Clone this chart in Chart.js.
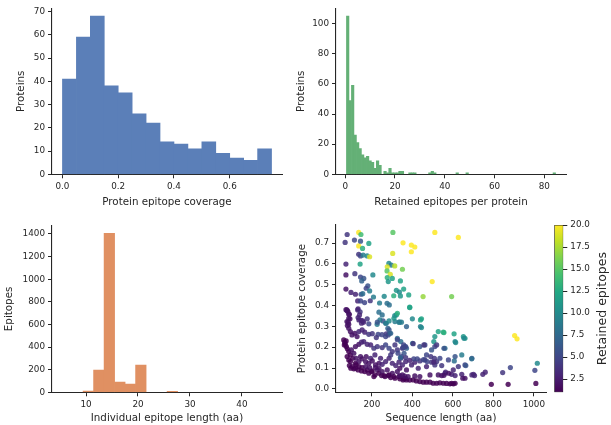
<!DOCTYPE html>
<html>
<head>
<meta charset="utf-8">
<script src="https://cdn.jsdelivr.net/npm/chart.js@4.4.1/dist/chart.umd.min.js"></script>
<style>
  html, body { margin: 0; padding: 0; background: #fff; }
  #wrap { position: relative; width: 611px; height: 425px; }
  #wrap canvas { position: absolute; left: 0; top: 0; }
</style>
</head>
<body>
<div id="wrap">
  <canvas id="coverageHist" width="611" height="425"></canvas>
  <canvas id="retainedHist" width="611" height="425"></canvas>
  <canvas id="lengthHist" width="611" height="425"></canvas>
  <canvas id="coverageScatter" width="611" height="425"></canvas>
  <canvas id="colorbar" width="611" height="425"></canvas>
</div>
<script>
// ─── Data ───────────────────────────────────

// protein epitope coverage, bins of 0.05
const coverageBins   = [0.025, 0.075, 0.125, 0.175, 0.225, 0.275, 0.325, 0.375, 0.425, 0.475, 0.525, 0.575, 0.625, 0.675, 0.725];
const coverageCounts = [41, 59, 68, 38, 35, 26, 22, 14, 13, 11, 14, 9, 7, 6, 11];
const coverageXTicks = [0, 0.2, 0.4, 0.6];
const coverageYTicks = [0, 10, 20, 30, 40, 50, 60, 70];

// retained epitopes per protein (only non-empty bins listed)
const retainedBins   = [1, 2, 3, 4, 5, 6, 7, 8, 9, 10, 11, 12, 13, 14, 16, 17, 18, 19, 20, 21, 22, 23, 26, 27, 28, 34, 35, 36, 45, 49, 84];
const retainedCounts = [105, 49, 59, 26, 21, 17, 13, 11, 12, 9, 8, 4, 9, 6, 2, 1, 4, 1, 1, 1, 2, 2, 1, 1, 1, 1, 2, 1, 1, 1, 1];
const retainedXTicks = [0, 20, 40, 60, 80];
const retainedYTicks = [0, 20, 40, 60, 80, 100];

// individual epitope length (aa), bins of ~2 aa
const lengthBins   = [10.45, 12.47, 14.49, 16.51, 18.53, 20.55, 26.61];
const lengthCounts = [10, 197, 1405, 91, 73, 241, 8];
const lengthXTicks = [10, 20, 30, 40];
const lengthYTicks = [0, 200, 400, 600, 800, 1000, 1200, 1400];

// [sequence length (aa), epitope coverage, retained epitopes]
const proteinPoints = [
  [78,0.741,4],[135,0.751,20],[146,0.741,14],[68,0.703,4],[114,0.714,5],[135,0.686,20],[144,0.709,6],[185,0.698,12],
  [154,0.674,13],[304,0.751,15],[511,0.751,20],[627,0.727,20],[354,0.701,20],[395,0.690,20],[412,0.681,20],[395,0.658,20],
  [72,0.599,3],[142,0.599,12],[135,0.646,4],[144,0.638,5],[157,0.642,9],[177,0.638,10],[189,0.634,19],[303,0.650,19],
  [284,0.602,10],[296,0.594,9],[313,0.590,18],[276,0.586,19],[275,0.566,15],[291,0.550,19],[351,0.574,16],[276,0.534,13],
  [301,0.530,12],[281,0.515,11],[341,0.518,12],[498,0.515,20],[72,0.547,2],[116,0.553,4],[144,0.537,5],[160,0.530,6],
  [150,0.518,7],[205,0.547,10],[180,0.495,6],[172,0.483,5],[72,0.479,2],[97,0.463,3],[119,0.454,3],[147,0.454,5],
  [155,0.457,8],[189,0.470,9],[130,0.422,3],[144,0.422,5],[164,0.414,5],[192,0.423,4],[208,0.441,9],[261,0.444,10],
  [321,0.473,11],[336,0.465,10],[357,0.479,12],[382,0.451,12],[341,0.446,11],[308,0.447,13],[594,0.443,16],[453,0.443,17],
  [238,0.412,9],[275,0.411,8],[286,0.403,8],[387,0.392,12],
  [72,0.380,2],[78,0.375,2],[82,0.371,2],[89,0.358,2],[86,0.339,2],[86,0.310,2],[77,0.323,2],[130,0.379,3],
  [142,0.370,4],[132,0.342,3],[147,0.329,3],[159,0.320,3],[177,0.336,4],[185,0.312,5],[235,0.368,8],[251,0.355,8],
  [226,0.310,9],[255,0.326,6],[271,0.315,8],[321,0.355,11],[313,0.352,10],[314,0.323,9],[337,0.320,9],[400,0.336,10],
  [445,0.336,12],[440,0.299,9],[279,0.291,7],[231,0.262,5],[250,0.260,5],[271,0.264,4],[288,0.267,8],
  [94,0.275,2],[102,0.259,2],[116,0.267,2],[127,0.251,2],[136,0.275,3],[152,0.283,3],[165,0.272,3],[185,0.262,4],
  [202,0.265,4],[222,0.246,4],[86,0.291,2],[79,0.304,2],[240,0.331,9],[227,0.320,6],[268,0.315,9],[285,0.326,10],
  [309,0.339,11],[326,0.363,13],[334,0.320,9],[285,0.283,6],[268,0.251,5],[281,0.259,5],[293,0.267,7],[326,0.243,8],
  [343,0.227,8],[139,0.355,3],[136,0.331,3],[149,0.315,3],[155,0.326,3],[132,0.384,3],[86,0.358,2],[92,0.336,2],
  [83,0.320,2],[77,0.379,2],
  [61,0.235,1],[66,0.224,1],[69,0.214,1],[74,0.203,1],[79,0.192,1],[86,0.179,1],[64,0.211,1],[73,0.230,1],
  [94,0.163,1],[99,0.187,2],[111,0.171,2],[119,0.203,2],[136,0.214,2],[149,0.224,3],[160,0.227,3],[177,0.214,3],
  [194,0.211,3],[210,0.195,4],[227,0.203,4],[251,0.198,4],[268,0.211,5],[285,0.195,5],[301,0.179,4],[314,0.211,4],
  [326,0.187,4],[351,0.195,4],[359,0.171,6],
  [78,0.155,1],[86,0.139,1],[94,0.131,1],[106,0.147,1],[119,0.123,1],[122,0.147,2],[136,0.131,2],[144,0.155,2],
  [152,0.144,2],[169,0.131,2],[172,0.155,2],[185,0.123,2],[194,0.147,3],[202,0.134,2],[215,0.163,3],[218,0.115,2],
  [235,0.123,2],[243,0.147,3],[251,0.118,3],[268,0.131,3],[285,0.147,3],[293,0.163,4],[301,0.123,3],[318,0.112,3],
  [334,0.128,3],[351,0.115,3],[367,0.131,3],[343,0.147,4],
  [102,0.107,1],[111,0.096,1],[119,0.099,1],[132,0.091,1],[136,0.107,1],[149,0.086,1],[152,0.102,1],[165,0.083,1],
  [177,0.091,1],[185,0.075,1],[198,0.083,1],[202,0.086,1],[215,0.067,1],[227,0.091,2],[235,0.075,1],[248,0.064,1],
  [251,0.083,2],[265,0.059,1],[276,0.091,2],[281,0.064,1],[293,0.054,1],[301,0.075,2],[314,0.051,1],[326,0.083,2],
  [334,0.059,1],[351,0.067,2],[359,0.048,1],[367,0.051,1],[309,0.059,1],[285,0.067,1],[260,0.064,1],[218,0.102,2],
  [235,0.099,2],[169,0.107,2],[189,0.102,2],[122,0.115,1],[89,0.112,1],[96,0.099,1],[210,0.059,1],
  [338,0.048,1],[354,0.043,1],[371,0.043,1],[387,0.042,1],[404,0.043,1],[420,0.038,1],[437,0.035,1],[454,0.032,1],
  [470,0.032,1],[487,0.032,1],[503,0.027,1],[520,0.027,1],[536,0.029,1],[553,0.027,1],[569,0.026,1],[586,0.024,1],
  [603,0.024,1],[611,0.027,1],[594,0.026,1],
  [338,0.064,2],[362,0.061,2],[379,0.059,2],[412,0.062,2],[437,0.059,2],[487,0.067,2],[528,0.067,2],[545,0.064,2],
  [561,0.075,3],[594,0.070,3],[611,0.064,3],[644,0.070,3],[660,0.051,2],[694,0.067,3],
  [338,0.099,2],[371,0.091,2],[396,0.115,3],[412,0.128,3],[429,0.099,3],[437,0.134,4],[462,0.139,4],[470,0.107,3],
  [495,0.128,4],[511,0.115,4],[520,0.131,4],[536,0.147,5],[545,0.112,4],[578,0.139,5],[611,0.155,6],[627,0.107,4],
  [660,0.115,5],[694,0.147,6],[644,0.163,9],[346,0.155,5],[362,0.203,8],[371,0.195,7],[401,0.219,8],[437,0.203,6],
  [462,0.211,5],[495,0.187,6],[511,0.203,5],[561,0.195,8],[611,0.227,10],[652,0.251,11],[660,0.243,11],[511,0.251,11],
  [528,0.275,12],[553,0.272,13],[445,0.294,10],[440,0.331,12],[387,0.390,12],[371,0.299,7],[346,0.320,9],
  [326,0.236,5],[506,0.227,11],[556,0.270,13],[606,0.264,12],[614,0.222,10],[655,0.243,10],[905,0.256,20],[917,0.240,20],
  [693,0.144,8],[607,0.134,8],[664,0.112,6],[556,0.195,6],[520,0.211,4],[457,0.211,4],[404,0.217,4],[357,0.211,5],
  [367,0.203,5],[354,0.198,5],[470,0.163,5],[491,0.155,4],[509,0.147,4],[506,0.128,3],[473,0.131,5],[455,0.140,5],
  [407,0.144,5],[424,0.144,5],[387,0.137,3],[367,0.150,4],[341,0.150,7],[329,0.171,5],[602,0.091,3],[564,0.080,3],
  [556,0.065,2],[580,0.075,2],[649,0.051,2],[702,0.070,3],[707,0.064,3],[748,0.070,3],[760,0.080,3],[790,0.022,1],
  [846,0.078,4],[884,0.102,5],[873,0.022,1],[1005,0.089,5],[1017,0.123,10],[1010,0.026,1]
];
const scatterXTicks  = [200, 400, 600, 800, 1000];
const scatterYTicks  = [0, 0.1, 0.2, 0.3, 0.4, 0.5, 0.6, 0.7];
const colorbarTicks  = [2.5, 5, 7.5, 10, 12.5, 15, 17.5, 20];
const colorRange     = [1, 20];

// ─── Styling ────────────────────────────────

const W = 611, H = 425;
const INK = '#262626';
const TICK_FONT  = { family: 'DejaVu Sans', size: 8.8 };
const LABEL_FONT = { family: 'DejaVu Sans', size: 10.3 };

const VIRIDIS = ['#440154','#482475','#414487','#355f8d','#2a788e','#21918c','#22a884','#44bf70','#7ad151','#bddf26','#fde725'];

function hexRgb(h) { return [1, 3, 5].map(i => parseInt(h.slice(i, i + 2), 16)); }

function viridis(v, alpha) {
    let t = (v - colorRange[0]) / (colorRange[1] - colorRange[0]);
    t = Math.max(0, Math.min(1, t)) * (VIRIDIS.length - 1);
    const i = Math.min(Math.floor(t), VIRIDIS.length - 2);
    const f = t - i;
    const a = hexRgb(VIRIDIS[i]), b = hexRgb(VIRIDIS[i + 1]);
    const c = a.map((x, k) => Math.round(x + (b[k] - x) * f));
    return `rgba(${c[0]},${c[1]},${c[2]},${alpha})`;
}

// plot area boxes (left, top, right, bottom) and axis widths
function layoutFor(box, yWidth, xHeight) {
    return {
        padding: {
            left: box[0] - yWidth,
            top: box[1],
            right: Math.max(0, W - box[2]),
            bottom: Math.max(0, H - box[3] - xHeight)
        }
    };
}

function linearAxis({ min, max, ticks, fmt, title, fit, horizontal, position }) {
    return {
        type: 'linear',
        position,
        offset: false,
        min, max,
        afterBuildTicks: s => { s.ticks = ticks.map(v => ({ value: v })); },
        afterFit: s => { if (horizontal) s.height = fit; else s.width = fit; },
        grid: { display: true, offset: false, drawOnChartArea: false, drawTicks: true, tickLength: 4, tickWidth: 1, color: INK },
        border: { display: true, color: INK, width: 1.1 },
        ticks: { color: INK, font: TICK_FONT, padding: 3, maxRotation: 0, autoSkip: false, callback: v => fmt(v) },
        title: { display: !!title, text: title, color: INK, font: LABEL_FONT, padding: 0 }
    };
}

const plain = v => String(v);
const oneDec = v => v.toFixed(1);

const baseOptions = {
    responsive: false,
    animation: false,
    devicePixelRatio: 1,
    plugins: { legend: { display: false }, tooltip: { enabled: false } }
};

function histogram(canvasId, bins, counts, color, cfg) {
    new Chart(document.getElementById(canvasId), {
        type: 'bar',
        data: {
            datasets: [{
                data: bins.map((b, i) => ({ x: b, y: counts[i] })),
                backgroundColor: color,
                borderWidth: 0,
                barPercentage: 1,
                categoryPercentage: 1
            }]
        },
        options: {
            ...baseOptions,
            layout: layoutFor(cfg.box, cfg.yWidth, cfg.xHeight),
            scales: {
                x: linearAxis({ ...cfg.x, fit: cfg.xHeight, horizontal: true, position: 'bottom' }),
                y: linearAxis({ ...cfg.y, fit: cfg.yWidth, horizontal: false, position: 'left' })
            }
        }
    });
}

// ─── Top left: coverage histogram ───────────

histogram('coverageHist', coverageBins, coverageCounts, '#5b7fb8', {
    box: [52, 7, 282, 174.3], yWidth: 37.2, xHeight: 33.9,
    x: { min: -0.0375, max: 0.7875, ticks: coverageXTicks, fmt: oneDec, title: 'Protein epitope coverage' },
    y: { min: 0, max: 71.4, ticks: coverageYTicks, fmt: plain, title: 'Proteins' }
});

// ─── Top right: retained epitopes ───────────

histogram('retainedHist', retainedBins, retainedCounts, '#64b076', {
    box: [336, 7, 566, 174.3], yWidth: 41.2, xHeight: 33.9,
    x: { min: -3.7, max: 88.7, ticks: retainedXTicks, fmt: plain, title: 'Retained epitopes per protein' },
    y: { min: 0, max: 110.25, ticks: retainedYTicks, fmt: plain, title: 'Proteins' }
});

// ─── Bottom left: epitope length ────────────

histogram('lengthHist', lengthBins, lengthCounts, '#e09062', {
    box: [52, 225.5, 282, 392.3], yWidth: 48.7, xHeight: 32.4,
    x: { min: 3.46, max: 47.7, ticks: lengthXTicks, fmt: plain, title: 'Individual epitope length (aa)' },
    y: { min: 0, max: 1475, ticks: lengthYTicks, fmt: plain, title: 'Epitopes' }
});

// ─── Bottom right: coverage vs length ───────

const scatterBox = [336, 225, 546, 392.3];
new Chart(document.getElementById('coverageScatter'), {
    type: 'scatter',
    data: {
        datasets: [{
            data: proteinPoints.map(p => ({ x: p[0], y: p[1] })),
            pointBackgroundColor: proteinPoints.map(p => viridis(p[2], 0.85)),
            pointBorderWidth: 0,
            pointRadius: 2.6
        }]
    },
    options: {
        ...baseOptions,
        layout: layoutFor(scatterBox, 40.2, 32.4),
        scales: {
            x: linearAxis({ min: 22.9, max: 1060, ticks: scatterXTicks, fmt: plain, title: 'Sequence length (aa)', fit: 32.4, horizontal: true, position: 'bottom' }),
            y: linearAxis({ min: -0.0165, max: 0.7865, ticks: scatterYTicks, fmt: oneDec, title: 'Protein epitope coverage', fit: 40.2, horizontal: false, position: 'left' })
        }
    }
});

// ─── Colorbar ───────────────────────────────

const colorbarTitle = {
    id: 'colorbarTitle',
    afterDraw(chart) {
        const { ctx, chartArea } = chart;
        ctx.save();
        ctx.translate(603, (chartArea.top + chartArea.bottom) / 2);
        ctx.rotate(-Math.PI / 2);
        ctx.font = '12.5px "DejaVu Sans"';
        ctx.fillStyle = INK;
        ctx.textAlign = 'center';
        ctx.textBaseline = 'middle';
        ctx.fillText('Retained epitopes', 0, 0);
        ctx.restore();
    }
};

const cbAxis = linearAxis({ min: colorRange[0], max: colorRange[1], ticks: colorbarTicks, fmt: oneDec, fit: 47.7, horizontal: false, position: 'right' });
cbAxis.border = { display: false };

new Chart(document.getElementById('colorbar'), {
    type: 'bar',
    data: {
        labels: ['colorbar'],
        datasets: [{
            data: [colorRange],
            backgroundColor: ctx => {
                const area = ctx.chart.chartArea;
                if (!area) return null;
                const g = ctx.chart.ctx.createLinearGradient(0, area.bottom, 0, area.top);
                VIRIDIS.forEach((c, i) => g.addColorStop(i / (VIRIDIS.length - 1), c));
                return g;
            },
            borderColor: INK,
            borderWidth: 0.8,
            borderSkipped: false,
            barPercentage: 1,
            categoryPercentage: 1
        }]
    },
    options: {
        ...baseOptions,
        layout: { padding: { left: 554.3, top: 225, right: 0, bottom: H - 392.3 } },
        scales: {
            x: { display: false },
            y: cbAxis
        }
    },
    plugins: [colorbarTitle]
});
</script>
</body>
</html>
